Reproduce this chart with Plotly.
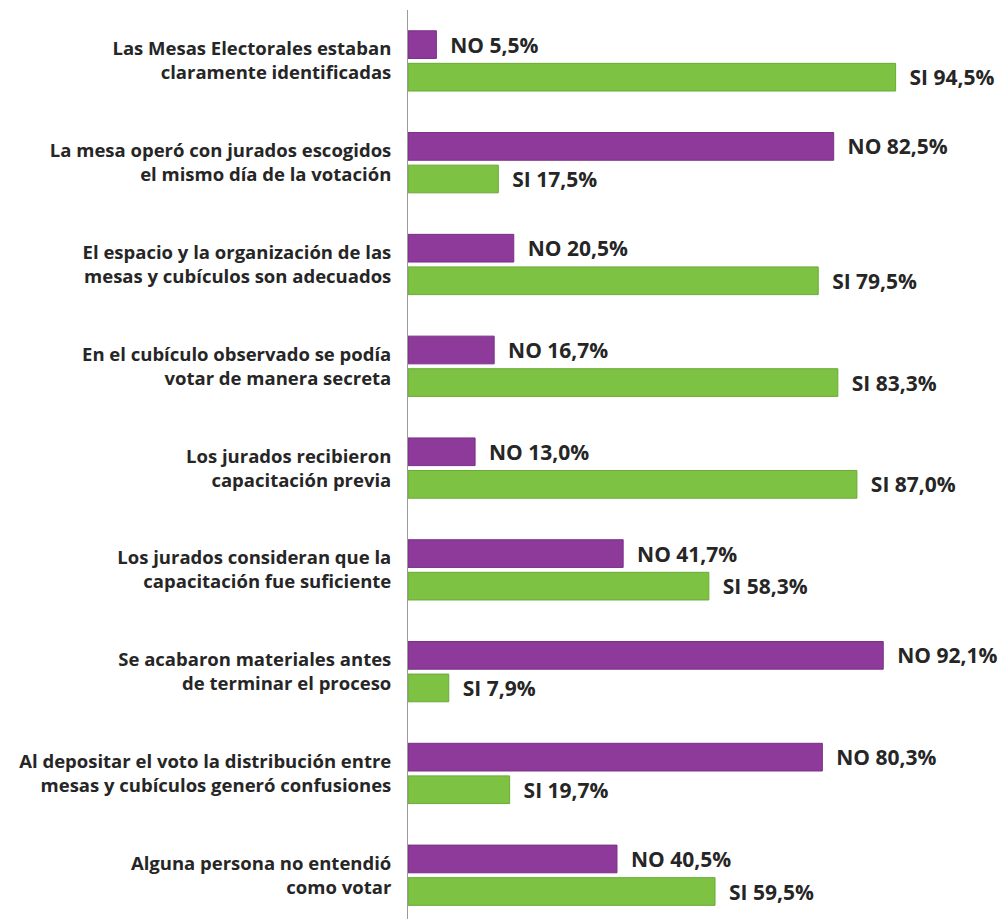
import plotly.graph_objects as go

categories = [
    "Las Mesas Electorales estaban<br>claramente identificadas",
    "La mesa operó con jurados escogidos<br>el mismo día de la votación",
    "El espacio y la organización de las<br>mesas y cubículos son adecuados",
    "En el cubículo observado se podía<br>votar de manera secreta",
    "Los jurados recibieron<br>capacitación previa",
    "Los jurados consideran que la<br>capacitación fue suficiente",
    "Se acabaron materiales antes<br>de terminar el proceso",
    "Al depositar el voto la distribución entre<br>mesas y cubículos generó confusiones",
    "Alguna persona no entendió<br>como votar",
]
no_values = [5.5, 82.5, 20.5, 16.7, 13.0, 41.7, 92.1, 80.3, 40.5]
si_values = [94.5, 17.5, 79.5, 83.3, 87.0, 58.3, 7.9, 19.7, 59.5]

def fmt(v):
    return f"{v:.1f}".replace(".", ",") + "%"

NB = "\u00a0"
no_text = [f"{NB}{NB}NO {fmt(v)}" for v in no_values]
si_text = [f"{NB}{NB}SI {fmt(v)}" for v in si_values]

font_family = "'Open Sans', Lato, sans-serif"

fig = go.Figure()
fig.add_trace(go.Bar(
    y=categories, x=no_values, orientation="h", name="NO",
    marker=dict(color="#8E3A9B", line=dict(color="#7A2F86", width=1)),
    text=no_text, textposition="outside", cliponaxis=False,
    constraintext="none",
    textfont=dict(family=font_family, size=21, color="#262626", weight="bold"),
))
fig.add_trace(go.Bar(
    y=categories, x=si_values, orientation="h", name="SI",
    marker=dict(color="#7DC242", line=dict(color="#6AAA36", width=1)),
    text=si_text, textposition="outside", cliponaxis=False,
    constraintext="none",
    textfont=dict(family=font_family, size=21, color="#262626", weight="bold"),
))

fig.update_layout(
    width=1005, height=919,
    margin=dict(l=408, r=81, t=10, b=0),
    paper_bgcolor="white", plot_bgcolor="white",
    barmode="group", bargap=0.36, bargroupgap=0.15,
    showlegend=False,
    font=dict(family=font_family, color="#262626"),
)
fig.update_xaxes(range=[0, 100], showgrid=False, showticklabels=False,
                 zeroline=False, showline=False, ticks="")
fig.update_yaxes(range=[8.43, -0.5], showgrid=False, showline=True,
                 linecolor="#9a9a9a", linewidth=1, ticks="", ticklen=0,
                 automargin=False,
                 tickfont=dict(family=font_family, size=18.5, color="#262626", weight="bold"),
                 ticklabelstandoff=12)

fig.write_html("out.html", config={"displayModeBar": False},
               post_script="document.body.style.margin='0';")
